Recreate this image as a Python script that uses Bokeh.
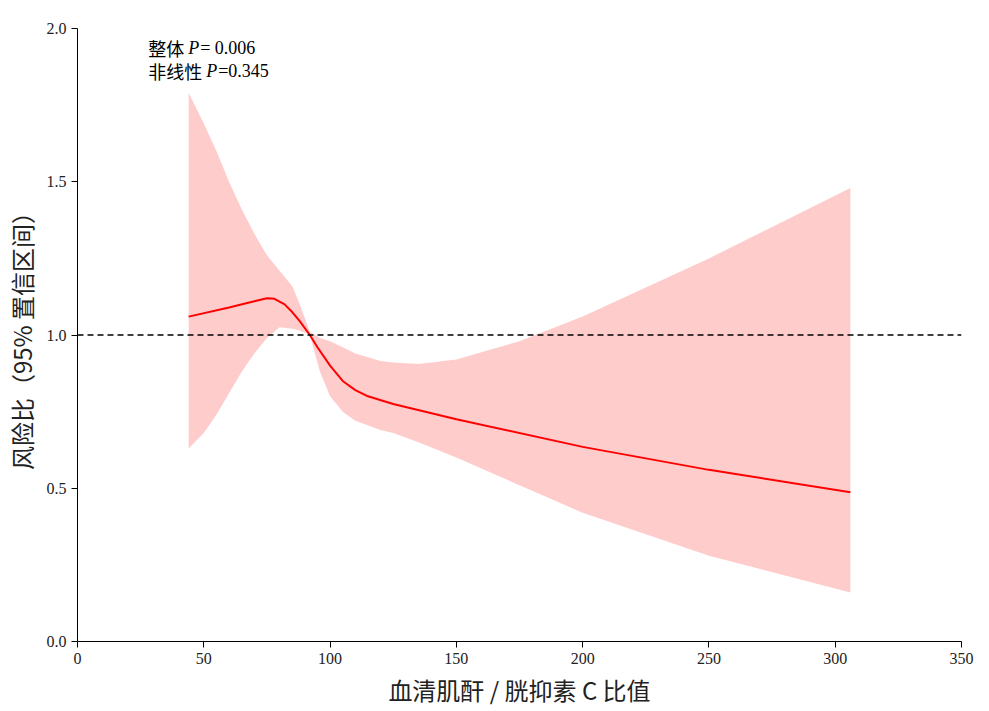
from bokeh.plotting import figure
from bokeh.models import Span, Label, Range1d, FixedTicker
from bokeh.embed import file_html
from bokeh.resources import INLINE

x_line = [44, 60, 70, 75, 78, 82, 85, 88, 92, 95, 100, 105, 110, 115, 125, 150, 200, 250, 306]
y_line = [1.06, 1.09, 1.11, 1.12, 1.118, 1.10, 1.075, 1.045, 1.0, 0.96, 0.9, 0.85, 0.82, 0.80, 0.775, 0.725, 0.635, 0.56, 0.487]
x_band = [44, 50, 55, 60, 65, 70, 75, 80, 85, 88, 92, 96, 100, 105, 110, 120, 125, 135, 150, 175, 200, 250, 306]
upper = [1.79, 1.69, 1.6, 1.5, 1.41, 1.33, 1.26, 1.21, 1.16, 1.1, 1.01, 0.99, 0.98, 0.96, 0.94, 0.915, 0.91, 0.905, 0.92, 0.98, 1.06, 1.25, 1.48]
lower = [0.63, 0.68, 0.74, 0.81, 0.88, 0.94, 0.99, 1.025, 1.02, 1.015, 1.0, 0.88, 0.8, 0.75, 0.72, 0.69, 0.68, 0.65, 0.6, 0.51, 0.42, 0.28, 0.16]

p = figure(width=982, height=709, output_backend="svg", toolbar_location=None,
           x_range=Range1d(0, 350), y_range=Range1d(0, 2.0),
           min_border_left=73, min_border_top=28, min_border_bottom=62, min_border_right=21)
p.grid.visible = False
p.outline_line_color = None
p.varea(x=x_band, y1=lower, y2=upper, fill_color="#ffcccc", fill_alpha=1)
p.line(x_line, y_line, line_color="red", line_width=2)
p.add_layout(Span(location=1.0, dimension="width", line_color="black", line_dash="6 4", line_width=1.5))

p.xaxis.ticker = FixedTicker(ticks=[0, 50, 100, 150, 200, 250, 300, 350])
p.yaxis.ticker = FixedTicker(ticks=[0, 0.5, 1.0, 1.5, 2.0])
p.yaxis.major_label_overrides = {0: "0.0", 0.5: "0.5", 1.0: "1.0", 1.5: "1.5", 2.0: "2.0"}
for ax in (p.xaxis, p.yaxis):
    ax.axis_line_color = "black"
    ax.major_tick_line_color = "black"
    ax.minor_tick_line_color = None
    ax.major_tick_out = 6
    ax.major_tick_in = 0
    ax.major_label_text_font = "Liberation Serif"
    ax.major_label_text_font_size = "16px"
    ax.major_label_text_color = "#222222"
    ax.axis_label_text_font = "Noto Sans CJK SC"
    ax.axis_label_text_font_size = "24px"
    ax.axis_label_text_font_style = "normal"
    ax.axis_label_text_color = "#222222"
p.xaxis.axis_label = "血清肌酐 / 胱抑素 C 比值"
p.yaxis.axis_label = "风险比（95% 置信区间）"

def lab(x, y, t, style="normal", font="Noto Sans CJK SC", xo=0):
    p.add_layout(Label(x=x, y=y, x_offset=xo, text=t, text_baseline="alphabetic",
                       text_font=font, text_font_size="18px", text_font_style=style,
                       text_color="black"))
lab(28, 1.935, "整体")
lab(28, 1.935, "P", "italic", "Liberation Serif", 40)
lab(28, 1.935, "= 0.006", "normal", "Liberation Serif", 52)
lab(28, 1.86, "非线性")
lab(28, 1.86, "P", "italic", "Liberation Serif", 58)
lab(28, 1.86, "=0.345", "normal", "Liberation Serif", 70)

open("out.html", "w").write(file_html(p, INLINE))
